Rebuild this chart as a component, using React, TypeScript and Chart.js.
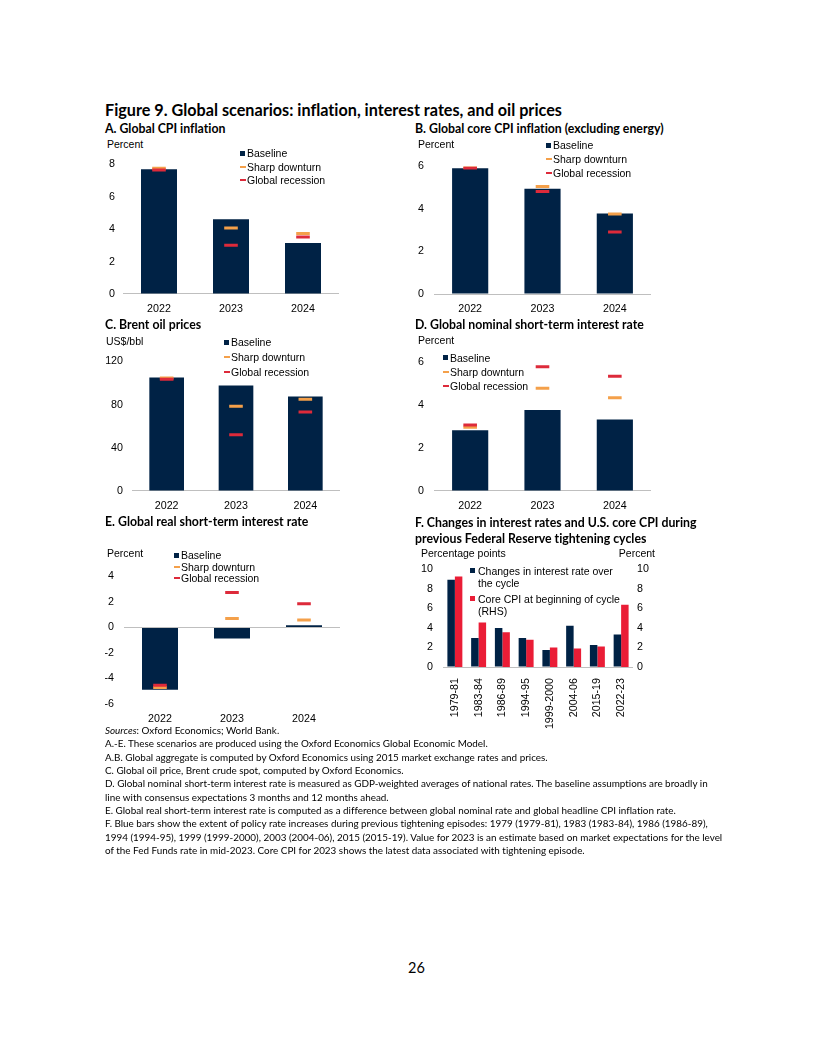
import React, { useEffect, useRef } from 'react';
import { Chart, registerables } from 'chart.js';

Chart.register(...registerables);

// ---------- data ----------
const years = ['2022', '2023', '2024'];

const cpiBaseline = [7.7, 4.62, 3.15];
const cpiSharp = [7.76, 4.08, 3.74];
const cpiRecession = [7.65, 3.01, 3.52];

const coreBaseline = [5.91, 4.95, 3.79];
const coreSharp = [5.95, 5.05, 3.76];
const coreRecession = [5.92, 4.82, 2.91];

const oilBaseline = [105.2, 97.7, 87.4];
const oilSharp = [104.6, 78.6, 85];
const oilRecession = [103.4, 52, 73.2];

const nominalBaseline = [2.83, 3.78, 3.34];
const nominalSharp = [2.98, 4.79, 4.35];
const nominalRecession = [3.08, 5.8, 5.35];

const realBaseline = [-4.89, -0.87, 0.17];
const realSharp = [-4.71, 0.7, 0.59];
const realRecession = [-4.53, 2.74, 1.86];

const cycles = ['1979-81', '1983-84', '1986-89', '1994-95', '1999-2000', '2004-06', '2015-19', '2022-23'];
const rateChange = [8.95, 2.98, 4.0, 2.98, 1.74, 4.23, 2.26, 3.34];
const coreCpiStart = [9.28, 4.56, 3.57, 2.79, 2.0, 1.9, 2.1, 6.39];

const legendLabels = ['Baseline', 'Sharp downturn', 'Global recession'];
const legendF = ['Changes in interest rate over', 'the cycle', 'Core CPI at beginning of cycle', '(RHS)'];

// ---------- styles ----------
const navy = '#002245';
const orange = '#F4A04A';
const red = '#DD2A3A';
const fRed = '#EA1D36';
const axisGray = '#bfbfbf';
const arial = "'Liberation Sans', Arial, sans-serif";
const calibri = "Lato, 'Open Sans', sans-serif";
const tickFont = { family: arial, size: 10.7 };

type Rect = { l: number; r: number; t: number; b: number };

const PAD_L = 45;
const PAD_R = 12;
const PAD_T = 12;

function zeroGrid(ctx: any) {
  return ctx.tick && ctx.tick.value === 0 ? axisGray : 'rgba(0,0,0,0)';
}

function useChart(ref: React.RefObject<HTMLCanvasElement>, build: () => any) {
  useEffect(() => {
    if (!ref.current) return;
    const chart = new Chart(ref.current, build());
    return () => chart.destroy();
  }, []);
}

function ScenarioChart(props: {
  rect: Rect;
  min: number;
  max: number;
  step: number;
  base: number[];
  sharp: number[];
  rec: number[];
  yPad: number;
  xH?: number;
}) {
  const ref = useRef<HTMLCanvasElement>(null);
  const { rect, min, max, step, base, sharp, rec, yPad } = props;
  const xH = props.xH ?? 26;
  const left = Math.round(rect.l) - PAD_L;
  const top = Math.round(rect.t) - PAD_T;
  const plotW = Math.round(rect.r) - Math.round(rect.l);
  const plotH = Math.round(rect.b) - Math.round(rect.t);
  const width = plotW + PAD_L + PAD_R;
  const height = plotH + PAD_T + xH;

  useChart(ref, () => ({
    type: 'bar',
    data: {
      labels: years,
      datasets: [
        {
          type: 'line',
          label: legendLabels[2],
          data: rec,
          showLine: false,
          pointStyle: 'line',
          pointRadius: 6.8,
          pointHoverRadius: 6.8,
          pointBorderWidth: 3,
          pointHoverBorderWidth: 3,
          pointBorderColor: red,
          pointBackgroundColor: red,
          borderColor: red,
          order: 1,
        },
        {
          type: 'line',
          label: legendLabels[1],
          data: sharp,
          showLine: false,
          pointStyle: 'line',
          pointRadius: 6.8,
          pointHoverRadius: 6.8,
          pointBorderWidth: 3,
          pointHoverBorderWidth: 3,
          pointBorderColor: orange,
          pointBackgroundColor: orange,
          borderColor: orange,
          order: 2,
        },
        {
          type: 'bar',
          label: legendLabels[0],
          data: base,
          backgroundColor: navy,
          categoryPercentage: 1,
          barPercentage: 0.5,
          order: 3,
        },
      ],
    },
    options: {
      responsive: false,
      animation: false,
      events: [],
      layout: { padding: { left: 0, right: PAD_R, top: PAD_T, bottom: 0 } },
      plugins: { legend: { display: false }, tooltip: { enabled: false } },
      scales: {
        x: {
          grid: { display: false },
          border: { display: false },
          ticks: { font: tickFont, color: '#000', padding: 1 },
          afterFit: (s: any) => {
            s.height = xH;
          },
        },
        y: {
          min,
          max,
          ticks: { stepSize: step, font: tickFont, color: '#000', padding: yPad },
          grid: { drawTicks: false, color: zeroGrid, lineWidth: 1 },
          border: { display: false },
          afterFit: (s: any) => {
            s.width = PAD_L;
          },
        },
      },
    },
  }));

  return (
    <canvas
      ref={ref}
      width={width}
      height={height}
      style={{ position: 'absolute', left, top, width, height }}
    />
  );
}

function CycleChart() {
  const ref = useRef<HTMLCanvasElement>(null);
  const rect: Rect = { l: 443, r: 633, t: 565, b: 667 };
  const padL = 40;
  const padR = 30;
  const xH = 62;
  const left = rect.l - padL;
  const top = rect.t - PAD_T;
  const width = rect.r - rect.l + padL + padR;
  const height = rect.b - rect.t + PAD_T + xH;

  useChart(ref, () => ({
    type: 'bar',
    data: {
      labels: cycles,
      datasets: [
        {
          label: legendF[0] + ' ' + legendF[1],
          data: rateChange,
          backgroundColor: navy,
          yAxisID: 'y',
          categoryPercentage: 0.63,
          barPercentage: 1,
        },
        {
          label: legendF[2] + ' ' + legendF[3],
          data: coreCpiStart,
          backgroundColor: fRed,
          yAxisID: 'y1',
          categoryPercentage: 0.63,
          barPercentage: 1,
        },
      ],
    },
    options: {
      responsive: false,
      animation: false,
      events: [],
      layout: { padding: { left: 0, right: 0, top: PAD_T, bottom: 0 } },
      plugins: { legend: { display: false }, tooltip: { enabled: false } },
      scales: {
        x: {
          grid: { display: false },
          border: { display: false },
          ticks: { font: tickFont, color: '#000', padding: 3, minRotation: 90, maxRotation: 90, autoSkip: false },
          afterFit: (s: any) => {
            s.height = xH;
          },
        },
        y: {
          position: 'left',
          min: 0,
          max: 10,
          ticks: { stepSize: 2, font: tickFont, color: '#000', padding: 10 },
          grid: { drawTicks: false, color: zeroGrid, lineWidth: 1 },
          border: { display: false },
          afterFit: (s: any) => {
            s.width = padL;
          },
        },
        y1: {
          position: 'right',
          min: 0,
          max: 10,
          ticks: { stepSize: 2, font: tickFont, color: '#000', padding: 4 },
          grid: { display: false, drawTicks: false },
          border: { display: false },
          afterFit: (s: any) => {
            s.width = padR;
          },
        },
      },
    },
  }));

  return (
    <canvas
      ref={ref}
      width={width}
      height={height}
      style={{ position: 'absolute', left, top, width, height }}
    />
  );
}

// ---------- text helpers ----------
function T(props: {
  x: number;
  y: number;
  size: number;
  bold?: boolean;
  family?: string;
  right?: boolean;
  children: React.ReactNode;
}) {
  const style: React.CSSProperties = {
    position: 'absolute',
    top: props.y,
    transform: 'translateY(-50%)',
    fontFamily: props.family ?? calibri,
    fontSize: props.size,
    fontWeight: props.bold ? 700 : 400,
    fontVariantLigatures: 'none',
    fontFeatureSettings: '"liga" 0, "clig" 0, "dlig" 0',
    lineHeight: 1,
    whiteSpace: 'nowrap',
    color: '#000',
  };
  if (props.right) style.right = 816 - props.x;
  else style.left = props.x;
  return <div style={style}>{props.children}</div>;
}

function LegendRow(props: { x: number; y: number; kind: 'square' | 'line'; color: string; text: string; textX?: number }) {
  const sym: React.CSSProperties =
    props.kind === 'square'
      ? { position: 'absolute', left: Math.round(props.x), top: Math.round(props.y - 2.5), width: 5, height: 5, background: props.color }
      : { position: 'absolute', left: Math.round(props.x), top: Math.round(props.y - 1), width: 6, height: 2, background: props.color };
  return (
    <>
      <div style={sym} />
      <T x={props.textX ?? props.x + 7} y={props.y} size={10.5} family={arial}>
        {props.text}
      </T>
    </>
  );
}

function ScenarioLegend(props: { x: number; ys: number[] }) {
  const { x, ys } = props;
  return (
    <>
      <LegendRow x={x} y={ys[0]} kind="square" color={navy} text={legendLabels[0]} />
      <LegendRow x={x} y={ys[1]} kind="line" color={orange} text={legendLabels[1]} />
      <LegendRow x={x} y={ys[2]} kind="line" color={red} text={legendLabels[2]} />
    </>
  );
}

const noteLines: React.ReactNode[] = [
  <>
    <i>Sources</i>: Oxford Economics; World Bank.
  </>,
  'A.-E. These scenarios are produced using the Oxford Economics Global Economic Model.',
  'A.B. Global aggregate is computed by Oxford Economics using 2015 market exchange rates and prices.',
  'C. Global oil price, Brent crude spot, computed by Oxford Economics.',
  'D.  Global nominal short-term interest rate is measured as GDP-weighted averages of national rates. The baseline assumptions are broadly in',
  'line with consensus expectations 3 months and 12 months ahead.',
  'E. Global real short-term interest rate is computed as a difference between global nominal rate and global headline CPI inflation rate.',
  'F. Blue bars show the extent of policy rate increases during previous tightening episodes: 1979 (1979-81), 1983 (1983-84), 1986 (1986-89),',
  '1994 (1994-95), 1999 (1999-2000), 2003 (2004-06), 2015 (2015-19). Value for 2023 is an estimate based on market expectations for the level',
  'of the Fed Funds rate in mid-2023. Core CPI for 2023 shows the latest data associated with tightening episode.',
];

export default function App() {
  return (
    <div
      style={{
        position: 'absolute',
        left: 0,
        top: 0,
        width: 816,
        height: 1056,
        background: '#fff',
        overflow: 'hidden',
      }}
    >
      <T x={105} y={110} size={16.2} bold>
        Figure 9. Global scenarios: inflation, interest rates, and oil prices
      </T>

      {/* Panel A */}
      <T x={105} y={129} size={12.3} bold>
        A. Global CPI inflation
      </T>
      <T x={107} y={144} size={10.5} family={arial}>
        Percent
      </T>
      <ScenarioChart
        rect={{ l: 123, r: 339, t: 162, b: 294 }}
        min={0}
        max={8}
        step={2}
        base={cpiBaseline}
        sharp={cpiSharp}
        rec={cpiRecession}
        yPad={8}
      />
      <ScenarioLegend x={240} ys={[153, 166.5, 180]} />

      {/* Panel B */}
      <T x={415} y={129} size={12.3} bold>
        B. Global core CPI inflation (excluding energy)
      </T>
      <T x={418} y={144} size={10.5} family={arial}>
        Percent
      </T>
      <ScenarioChart
        rect={{ l: 434, r: 651, t: 162, b: 294 }}
        min={0}
        max={6}
        step={2}
        base={coreBaseline}
        sharp={coreSharp}
        rec={coreRecession}
        yPad={10}
      />
      <ScenarioLegend x={546} ys={[145, 159, 173]} />

      {/* Panel C */}
      <T x={105} y={325} size={12.3} bold>
        C. Brent oil prices
      </T>
      <T x={106} y={341} size={10.5} family={arial}>
        US$/bbl
      </T>
      <ScenarioChart
        rect={{ l: 132, r: 340, t: 358, b: 491 }}
        min={0}
        max={120}
        step={40}
        base={oilBaseline}
        sharp={oilSharp}
        rec={oilRecession}
        yPad={9}
      />
      <ScenarioLegend x={224} ys={[342.3, 357.3, 372.3]} />

      {/* Panel D */}
      <T x={415} y={325} size={12.3} bold>
        D. Global nominal short-term interest rate
      </T>
      <T x={418} y={340} size={10.5} family={arial}>
        Percent
      </T>
      <ScenarioChart
        rect={{ l: 434, r: 651, t: 358, b: 491 }}
        min={0}
        max={6}
        step={2}
        base={nominalBaseline}
        sharp={nominalSharp}
        rec={nominalRecession}
        yPad={10}
      />
      <ScenarioLegend x={443} ys={[357.7, 371.7, 385.7]} />

      {/* Panel E */}
      <T x={105} y={522} size={12.3} bold>
        E. Global real short-term interest rate
      </T>
      <T x={107} y={553} size={10.5} family={arial}>
        Percent
      </T>
      <ScenarioChart
        rect={{ l: 124, r: 340, t: 572, b: 704 }}
        min={-6}
        max={4}
        step={2}
        base={realBaseline}
        sharp={realSharp}
        rec={realRecession}
        yPad={10}
      />
      <ScenarioLegend x={174} ys={[555, 566.7, 578.3]} />

      {/* Panel F */}
      <T x={415} y={522.5} size={12.3} bold>
        F. Changes in interest rates and U.S. core CPI during
      </T>
      <T x={415} y={538.5} size={12.3} bold>
        previous Federal Reserve tightening cycles
      </T>
      <T x={421} y={553} size={10.5} family={arial}>
        Percentage points
      </T>
      <T x={655} y={553} size={10.5} family={arial} right>
        Percent
      </T>
      <CycleChart />
      <LegendRow x={470} y={570.5} kind="square" color={navy} text={legendF[0]} textX={478} />
      <T x={478} y={582.5} size={10.5} family={arial}>
        {legendF[1]}
      </T>
      <LegendRow x={470} y={598.5} kind="square" color={fRed} text={legendF[2]} textX={478} />
      <T x={478} y={610.5} size={10.5} family={arial}>
        {legendF[3]}
      </T>

      {/* Notes */}
      {noteLines.map((line, i) => (
        <T key={i} x={105} y={731 + i * 13.33} size={9.9}>
          {line}
        </T>
      ))}

      <T x={408} y={968} size={14.5}>
        26
      </T>
    </div>
  );
}
